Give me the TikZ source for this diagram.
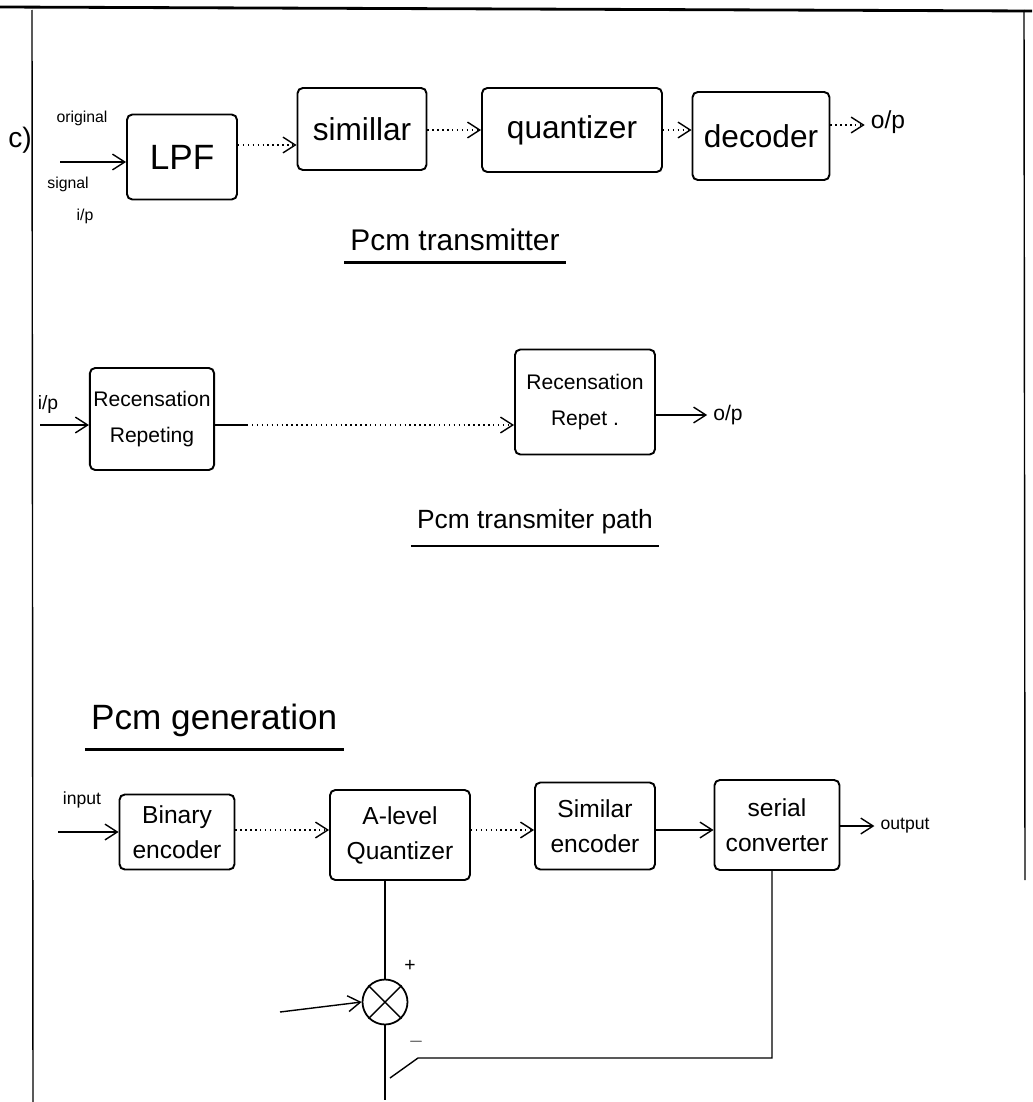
\documentclass[tikz,border=0pt]{standalone}
\usepackage{fontspec}
\setmainfont{Liberation Sans}
\usetikzlibrary{arrows.meta}

\tikzset{
  block/.style={draw, line width=1.1pt, rounded corners=3pt, align=center, inner sep=2pt},
  flow/.style={-{Straight Barb[length=7pt,width=9pt]}, line width=0.8pt},
  dots/.style={flow, dotted},
  note/.style={font=\fontsize{10}{12}\selectfont},
  caption/.style={font=\fontsize{17}{20}\selectfont},
}

\begin{document}
\begin{tikzpicture}[x=0.02cm,y=-0.02cm]
  \useasboundingbox (0,0) rectangle (1032,1102);

  %draw page border
  \draw[line width=1.6pt] (0,7) -- (1032,11);
  \draw[line width=0.8pt] (32,10) -- (33,1102);
  \draw[line width=0.8pt] (1024,10) -- (1025,880);

  %draw first row (pcm transmitter)
  \node[font=\fontsize{16}{18}\selectfont] (part) at (20,140) {c)};
  \node[note, font=\fontsize{9}{11}\selectfont] (orig) at (82,118) {original};
  \node[note, font=\fontsize{9}{11}\selectfont] (sig) at (68,184) {signal};
  \node[note, font=\fontsize{9}{11}\selectfont] (sigip) at (85,216) {i/p};
  \coordinate (sigin) at (60,162);

  \node[block, minimum width=2.2cm, minimum height=1.7cm, font=\fontsize{20}{22}\selectfont] (lpf) at (182,157) {LPF};
  \node[block, minimum width=2.58cm, minimum height=1.64cm, font=\fontsize{18}{20}\selectfont] (simi) at (362,129) {simillar};
  \node[block, minimum width=3.6cm, minimum height=1.68cm, font=\fontsize{18}{20}\selectfont] (quan) at (572,130) {quantizer};
  \node[block, minimum width=2.74cm, minimum height=1.76cm, font=\fontsize{18}{20}\selectfont] (deco) at (761,136) {decoder};
  \node[font=\fontsize{14}{16}\selectfont] (op1) at (888,122) {o/p};

  \draw[flow] (sigin) -- (lpf.west |- sigin);
  \draw[dots] (lpf.east |- 0,145) -- (simi.west |- 0,145);
  \draw[dots] (simi.east |- 0,130) -- (quan.west |- 0,130);
  \draw[dots] (quan.east |- 0,130) -- (deco.west |- 0,130);
  \draw[dots] (deco.east |- 0,125) -- (op1.west |- 0,125);

  \node[caption] (cap1) at (455,240) {Pcm transmitter};
  \draw[line width=1.2pt] ([yshift=-3pt]cap1.south west) -- ([yshift=-3pt]cap1.south east);

  %draw second row (pcm transmitter path)
  \node[font=\fontsize{11}{13}\selectfont] (ip2) at (48,404) {i/p};
  \coordinate (recin) at (40,425);
  \node[block, minimum width=2.3cm, minimum height=2.04cm, font=\fontsize{12}{20}\selectfont] (rec1) at (152,419) {Recensation\\Repeting};
  \node[block, minimum width=2.8cm, minimum height=2.1cm, font=\fontsize{12}{20}\selectfont] (rec2) at (585,402) {Recensation\\Repet .};
  \node[font=\fontsize{12}{14}\selectfont] (op2) at (728,415) {o/p};

  \draw[flow] (recin) -- (rec1.west |- recin);
  \draw[line width=0.8pt] (rec1.east |- 0,425) -- ++(32,0) coordinate (dstart);
  \draw[dots] (dstart) -- (rec2.west |- dstart);
  \draw[flow] (rec2.east |- op2) -- (op2.west);

  \node[caption, font=\fontsize{15}{18}\selectfont] (cap2) at (535,522) {Pcm transmiter path};
  \draw[line width=1.2pt] ([yshift=-3pt]cap2.south west) -- ([yshift=-3pt]cap2.south east);

  %draw third row (pcm generation)
  \node[caption, font=\fontsize{20}{24}\selectfont, anchor=west] (cap3) at (85,720) {Pcm generation};
  \draw[line width=1.4pt] ([yshift=-4pt]cap3.south west) -- ([yshift=-4pt]cap3.south east);

  \node[note] (inp) at (82,800) {input};
  \coordinate (binin) at (58,832);
  \node[block, minimum width=2.3cm, minimum height=1.5cm, font=\fontsize{14}{20}\selectfont] (bin) at (177,832) {Binary\\encoder};
  \node[block, minimum width=2.8cm, minimum height=1.8cm, font=\fontsize{14}{20}\selectfont] (alev) at (400,835) {A-level\\Quantizer};
  \node[block, minimum width=2.4cm, minimum height=1.74cm, font=\fontsize{14}{20}\selectfont] (sime) at (595,826) {Similar\\encoder};
  \node[block, minimum width=2.5cm, minimum height=1.8cm, font=\fontsize{14}{20}\selectfont] (ser) at (777,825) {serial\\converter};
  \node[note] (outp) at (905,826) {output};

  \draw[flow] (binin) -- (bin.west |- binin);
  \draw[dots] (bin.east |- 0,830) -- (alev.west |- 0,830);
  \draw[dots] (alev.east |- 0,830) -- (sime.west |- 0,830);
  \draw[flow] (sime.east |- 0,830) -- (ser.west |- 0,830);
  \draw[flow] (ser.east |- outp) -- (outp.west);

  %draw summing point and feedback
  \node[draw, circle, line width=1pt, minimum size=0.9cm] (mix) at (385,1002) {};
  \draw[line width=0.8pt] (mix.north west) -- (mix.south east);
  \draw[line width=0.8pt] (mix.north east) -- (mix.south west);
  \node[font=\fontsize{11}{13}\selectfont] (plus) at (410,966) {+};
  \node[font=\fontsize{11}{13}\selectfont] (minus) at (416,1042) {$-$};
  \coordinate (sumin) at (280,1012);
  \coordinate (tail) at (385,1100);
  \coordinate (fbk) at (418,1058);
  \coordinate (join) at (390,1078);

  \draw[line width=0.8pt] (alev.south -| mix) -- (mix.north);
  \draw[flow] (sumin) -- (mix.west);
  \draw[line width=0.8pt] (mix.south) -- (tail);
  \draw[line width=0.8pt] (ser.south -| 772,0) |- (fbk) -- (join);
\end{tikzpicture}
\end{document}
